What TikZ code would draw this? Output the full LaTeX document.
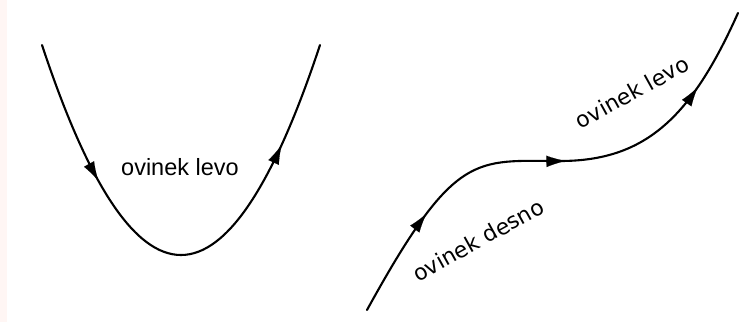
\documentclass[tikz,border=0pt]{standalone}
\usepackage{fontspec}
\setmainfont{Liberation Sans}
\newfontfamily\dejavu{DejaVu Sans}
\usetikzlibrary{arrows.meta,decorations.markings}
\definecolor{strip}{RGB}{255,246,244}
\tikzset{
  curve/.style={line width=2.1pt, line cap=round},
  headtip/.style={line width=0.1pt},
  lbl/.style={inner sep=0pt, font=\fontsize{23.5}{26}\selectfont},
  rlbl/.style={inner sep=0pt, rotate=29, font=\dejavu\fontsize{22}{24}\selectfont}
}
\def\ahead{Latex[length=19pt,width=11.5pt]}
\begin{document}
\begin{tikzpicture}[x=1pt,y=-1pt]
\useasboundingbox (0,0) rectangle (740,322);
\fill[white] (0,0) rectangle (740,322);
\fill[strip] (0,0) rectangle (6.5,322);
% left curve
\coordinate (L0) at (42,45);
\coordinate (L1) at (320,45);
\draw[curve, postaction={decorate}, decoration={markings,
   mark=at position 147pt with {\arrow[headtip]{\ahead}},
   mark=at position 419pt with {\arrow[headtip]{\ahead}}}]
  (L0) .. controls (134.7,325) and (227.3,325) .. (L1);
\node[lbl] (tl) at (180,167) {ovinek levo};
% right curve
\coordinate (R0) at (367,310);
\coordinate (RM) at (560,161);
\coordinate (R1) at (738,13);
\draw[curve, postaction={decorate}, decoration={markings,
   mark=at position 113pt with {\arrow[headtip]{\ahead}},
   mark=at position 271pt with {\arrow[headtip]{\ahead}},
   mark=at position 429pt with {\arrow[headtip]{\ahead}}}]
  (R0) .. controls (455,150) and (475,161) .. (RM)
       .. controls (645,161) and (691,118) .. (R1);
\node[rlbl] (td) at (478,240) {ovinek desno};
\node[rlbl] (tr) at (632,92) {ovinek levo};
\end{tikzpicture}
\end{document}
